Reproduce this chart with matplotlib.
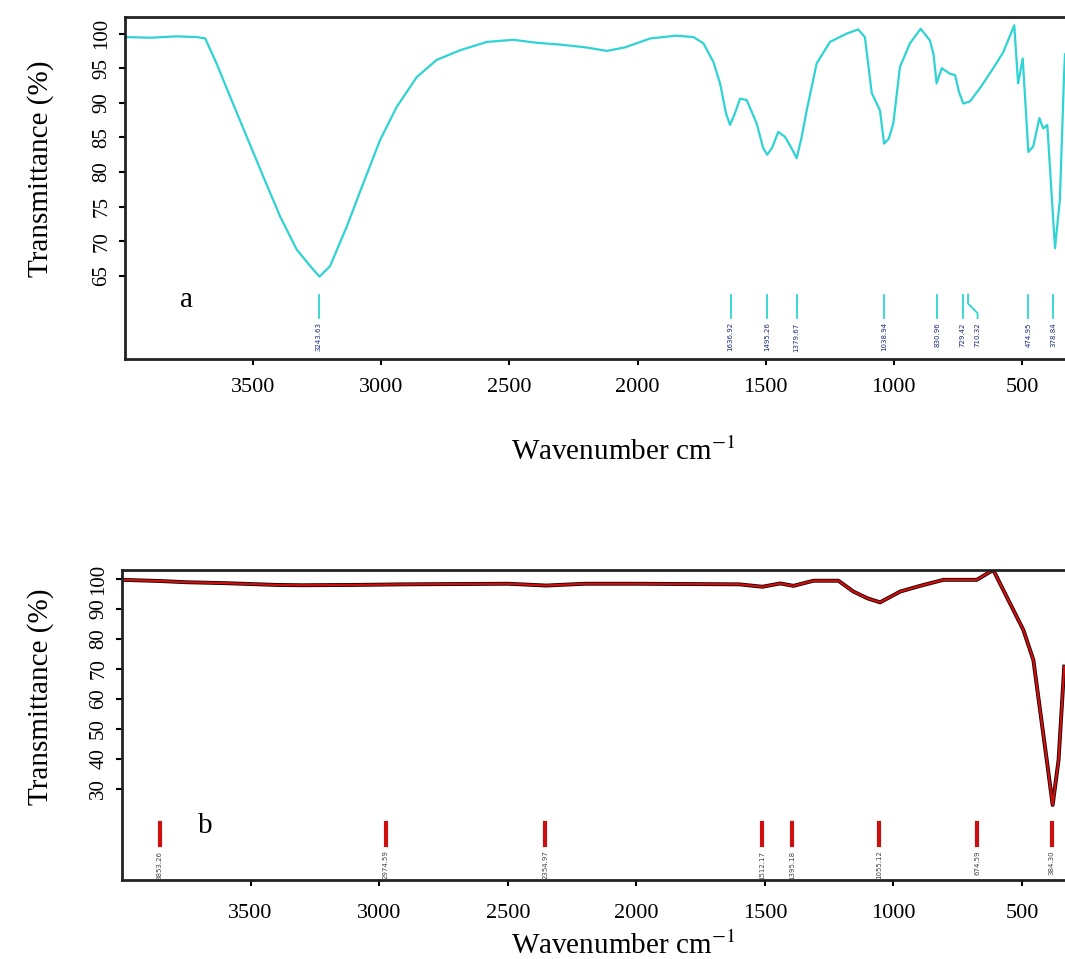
import matplotlib
matplotlib.use("Agg")
import matplotlib.pyplot as plt

plt.rcParams['font.family'] = ['Liberation Serif', 'DejaVu Serif']
plt.rcParams['mathtext.fontset'] = 'stix'

# spectrum a
wn_a = [4000, 3900, 3800, 3720, 3687, 3643, 3590, 3525, 3460, 3395, 3330, 3277, 3241,
        3200, 3135, 3070, 3005, 2940, 2862, 2784, 2692, 2588, 2484, 2400, 2300, 2200,
        2120, 2050, 1950, 1850, 1782, 1743, 1704, 1678, 1655, 1639, 1620, 1600, 1574,
        1535, 1510, 1494, 1475, 1451, 1425, 1400, 1379, 1360, 1340, 1301, 1249, 1184,
        1139, 1113, 1086, 1054, 1038, 1020, 1002, 976, 937, 895, 859, 845, 833, 813,
        781, 761, 745, 729, 703, 664, 612, 573, 530, 515, 497, 475, 456, 432, 417, 401,
        391, 371, 352, 336, 332]
t_a = [99.5, 99.4, 99.6, 99.5, 99.3, 95.7, 90.9, 85.1, 79.3, 73.6, 68.8, 66.4, 64.9,
       66.4, 72.1, 78.4, 84.6, 89.4, 93.7, 96.2, 97.6, 98.8, 99.1, 98.7, 98.4, 98.0,
       97.5, 98.0, 99.3, 99.7, 99.5, 98.6, 95.9, 92.8, 88.5, 86.8, 88.5, 90.6, 90.4,
       87.0, 83.5, 82.5, 83.5, 85.8, 85.1, 83.5, 82.0, 85.0, 88.9, 95.7, 98.8, 100.0,
       100.6, 99.5, 91.4, 88.9, 84.1, 84.8, 87.0, 95.2, 98.6, 100.7, 99.0, 97.0, 92.8, 95.0,
       94.2, 94.0, 91.5, 89.9, 90.2, 92.1, 95.0, 97.3, 101.2, 92.8, 96.4, 82.9, 83.7, 87.8, 86.3, 86.8,
       80.8, 69.0, 76.0, 93.7, 97.0]

# spectrum b
wn_b = [4000, 3850, 3750, 3600, 3400, 3300, 3100, 2900, 2700, 2500, 2350, 2200, 2000,
        1800, 1600, 1510, 1440, 1389, 1311, 1214, 1156, 1100, 1052, 974, 896, 806, 676,
        612, 560, 495, 456, 430, 404, 381, 358, 336]
t_b = [99.7, 99.3, 98.9, 98.6, 98.0, 97.9, 98.0, 98.2, 98.3, 98.4, 97.8, 98.4, 98.4,
       98.3, 98.2, 97.4, 98.5, 97.7, 99.4, 99.4, 95.8, 93.5, 92.2, 95.8, 97.7, 99.7, 99.7,
       103.0, 94.1, 83.0, 73.0, 56.3, 39.7, 24.7, 39.7, 70.8]

# peak picks
peaks_a = [3243.63, 1636.92, 1495.26, 1379.67, 1038.94, 830.96, 729.42, 710.32, 474.95, 378.84]
labelpos_a = [3243.63, 1636.92, 1495.26, 1379.67, 1038.94, 830.96, 731.0, 673.0, 474.95, 378.84]
peaks_b = [3853.26, 2974.59, 2354.97, 1512.17, 1395.18, 1055.12, 674.59, 384.30]

a_color = '#2fd3d3'


def style_axes(ax, yticks):
    for s in ['top', 'bottom', 'left']:
        ax.spines[s].set_linewidth(2)
        ax.spines[s].set_color('#222222')
    ax.spines['right'].set_visible(False)
    ax.set_xticks([3500, 3000, 2500, 2000, 1500, 1000, 500])
    ax.set_yticks(yticks)
    ax.set_yticklabels([str(v) for v in yticks], rotation=90, va='center')
    ax.tick_params(axis='x', direction='out', length=4, width=1.5, labelsize=16, pad=10)
    ax.tick_params(axis='y', direction='out', length=4, width=1.5, labelsize=15, pad=6)


fig = plt.figure(figsize=(10.65, 9.59), dpi=100)

ax1 = fig.add_axes([0.1174, 0.6257, 1 - 0.1174, 0.3566])
ax1.plot(wn_a, t_a, color=a_color, lw=1.6)
ax1.set_xlim(4000, 332)
ax1.set_ylim(53.0, 102.4)
style_axes(ax1, [65, 70, 75, 80, 85, 90, 95, 100])
for p, lp, lab in zip(peaks_a, labelpos_a, peaks_a):
    if abs(p - lp) > 5:
        ax1.plot([p, p, lp, lp], [62.3, 61.0, 59.6, 58.9], color=a_color, lw=1.3)
    else:
        ax1.plot([p, p], [62.3, 58.9], color=a_color, lw=1.3)
    ax1.text(lp, 58.3, '%.2f' % lab, rotation=90, ha='center', va='top',
             fontsize=5, color='#1a2a7a', family='DejaVu Sans')
ax1.text(3760, 61.5, 'a', fontsize=21, ha='center', va='center')

ax2 = fig.add_axes([0.1146, 0.0824, 1 - 0.1146, 0.3233])
ax2.plot(wn_b, t_b, color='#1a0000', lw=2.8)
ax2.plot(wn_b, t_b, color='#cc1010', lw=1.6)
ax2.set_xlim(4000, 333)
ax2.set_ylim(-0.3, 103)
style_axes(ax2, [30, 40, 50, 60, 70, 80, 90, 100])
ax2.tick_params(axis='x', pad=13)
for p in peaks_b:
    ax2.plot([p, p], [18.7, 11.3], color='#cc1010', lw=3)
    ax2.text(p, 9.5, '%.2f' % p, rotation=90, ha='center', va='top',
             fontsize=5, color='#444444', family='DejaVu Sans')
ax2.text(3675, 17.8, 'b', fontsize=21, ha='center', va='center')

for y in [0.8245, 0.273]:
    fig.text(0.0376, y, 'Transmittance (%)', rotation=90, ha='center', va='center', fontsize=21)
fig.text(0.585, 0.5287, 'Wavenumber cm$^{-1}$', ha='center', va='center', fontsize=21)
fig.text(0.585, 0.0136, 'Wavenumber cm$^{-1}$', ha='center', va='center', fontsize=21)

fig.savefig('out.png', dpi=100)
